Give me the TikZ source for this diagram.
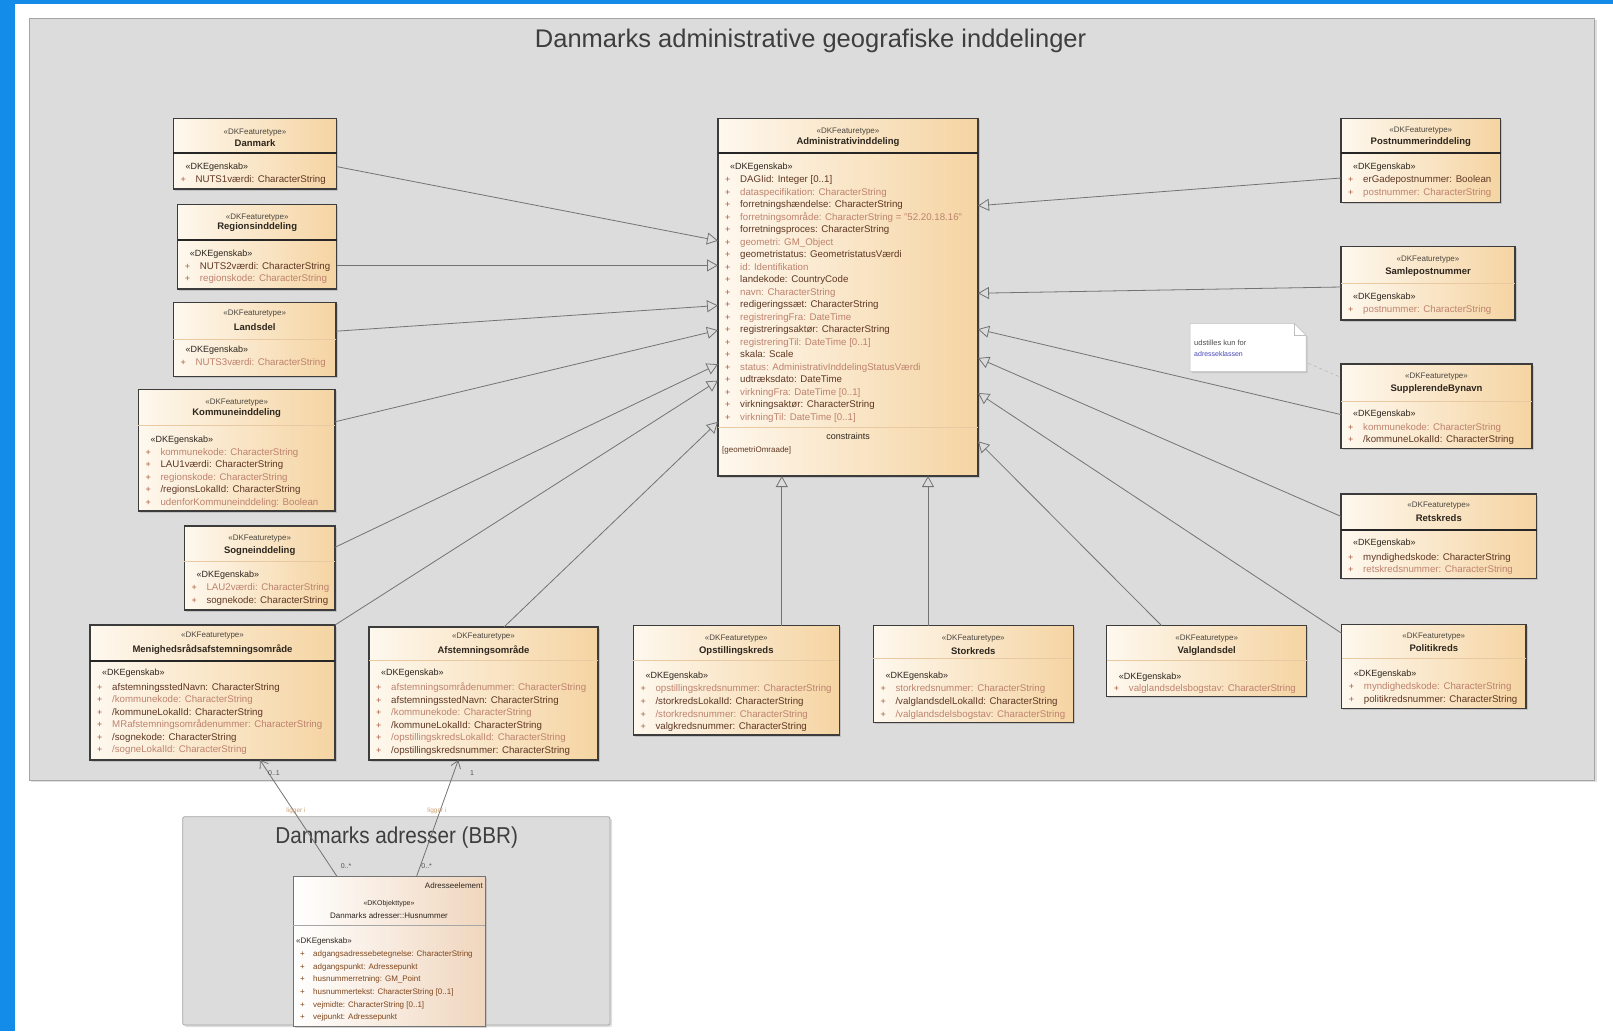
\documentclass[tikz,border=0pt]{standalone}
\usepackage{fontspec}
\setmainfont{Liberation Sans}
\usetikzlibrary{arrows.meta,shadows,calc}
\definecolor{bluebar}{RGB}{18,140,232}
\definecolor{pkgfill}{RGB}{220,220,220}
\definecolor{pkgline}{RGB}{165,165,165}
\definecolor{boxL}{RGB}{254,248,238}
\definecolor{boxR}{RGB}{245,212,162}
\definecolor{boxline}{RGB}{60,60,60}
\definecolor{txtdark}{RGB}{45,38,30}
\definecolor{attrdark}{RGB}{95,55,35}
\definecolor{attrfaint}{RGB}{190,130,110}
\definecolor{pluscol}{RGB}{170,90,60}
\definecolor{conn}{RGB}{115,115,115}
\definecolor{titlecol}{RGB}{62,62,62}
\definecolor{lblcol}{RGB}{205,160,115}
\definecolor{hnR}{RGB}{240,214,190}
\newcommand\fa{\color{attrfaint}}
\tikzset{
 pkgbox/.style={draw=pkgline, fill=pkgfill, line width=0.8pt, inner sep=0pt, outer sep=0pt,
   drop shadow={opacity=0.25, shadow xshift=2pt, shadow yshift=-2pt}},
 pkgtitle/.style={font=\fontsize{25.5}{30}\selectfont, text=titlecol, inner sep=0pt},
 umlcls/.style={draw=boxline, line width=1.1pt, left color=boxL, right color=boxR, inner sep=0pt, outer sep=0pt,
   drop shadow={opacity=0.3, shadow xshift=1.5pt, shadow yshift=-1.5pt}},
 divthick/.style={draw=black!85, line width=1.8pt},
 divthin/.style={draw=boxR!60!brown!70, line width=0.6pt},
 stereotxt/.style={font=\fontsize{8}{9}\selectfont, text=txtdark!85, inner sep=0pt},
 egtxt/.style={font=\fontsize{9}{10}\selectfont, text=txtdark, inner sep=0pt, anchor=west},
 nametxt/.style={font=\fontsize{9.5}{11}\selectfont\bfseries, text=txtdark, inner sep=0pt},
 attrtxt/.style={font=\fontsize{9.7}{11}\selectfont, text=attrdark, inner sep=0pt, anchor=base west},
 plusmark/.style={font=\fontsize{9}{10}\selectfont, text=pluscol, inner sep=0pt, anchor=base west},
 genarrow/.style={draw=conn, line width=0.8pt, -{Triangle[open, length=11pt, width=12pt]}},
 assocarrow/.style={draw=conn, line width=0.8pt, -{Straight Barb[length=7pt, width=10pt]}},
 multtxt/.style={font=\fontsize{7}{8}\selectfont, text=txtdark!80, inner sep=0pt},
 roletxt/.style={font=\fontsize{6.5}{8}\selectfont, text=lblcol, inner sep=0pt},
 hnbox/.style={draw=black!55, line width=0.6pt, left color=white, right color=hnR, inner sep=0pt, outer sep=0pt,
   drop shadow={opacity=0.3, shadow xshift=1.5pt, shadow yshift=-1.5pt}},
 hntxt/.style={font=\fontsize{8}{9}\selectfont, text=txtdark, inner sep=0pt},
 hnattr/.style={font=\fontsize{8}{9}\selectfont, text=attrdark!80!orange, inner sep=0pt, anchor=base west},
}
% id, x1, y1, x2, y2, ydiv, divstyle
\newcommand\clsbox[7]{%
 \node[umlcls, anchor=north west, minimum width={(#4-#2)*1pt}, minimum height={(#5-#3)*1pt}] (#1) at (#2,#3) {};
 \draw[#7] (#2,#6) -- (#4,#6);
}
% id, xc, ystereo, yname, stereotype, name
\newcommand\clshead[6]{%
 \node[stereotxt] (#1-st) at (#2,#3) {#5};
 \node[nametxt] (#1-nm) at (#2,#4) {#6};
}
% id, x1, yeg, yfirst, step, list
\newcommand\clsattrs[6]{%
 \node[egtxt] (#1-eg) at (#2+12,#3) {«DKEgenskab»};
 \foreach \t [count=\i] in {#6} {
   \node[plusmark] (#1-p\i) at (#2+7,{#4+3.5+(\i-1)*#5}) {+};
   \node[attrtxt] (#1-a\i) at (#2+22,{#4+3.5+(\i-1)*#5}) {\t};
 }
}
\begin{document}
\begin{tikzpicture}[x=1pt,y=-1pt]
\useasboundingbox (0,0) rectangle (1613,1031);
\fill[white] (0,0) rectangle (1613,1031);
\fill[bluebar] (0,0) rectangle (15.4,1031);
\fill[bluebar] (0,0) rectangle (1613,3.5);

% packages
\node[pkgbox, anchor=north west, minimum width=1565.5pt, minimum height=762pt] (pkgmain) at (29,18) {};
\node[pkgtitle] (titlemain) at (810.6,41) {Danmarks administrative geografiske inddelinger};
\node[pkgbox, rounded corners=2pt, anchor=north west, minimum width=427.3pt, minimum height=208.3pt] (pkgbbr) at (182.7,816.7) {};
\node[pkgtitle, font=\fontsize{23}{28}\selectfont, xscale=0.9] (titlebbr) at (396.7,837.3) {Danmarks adresser (BBR)};

% Danmark
\clsbox{danmark}{173.3}{118.3}{336.7}{189}{152.7}{divthick}
\clshead{danmark}{255}{132.7}{142.7}{«DKFeaturetype»}{Danmark}
\clsattrs{danmark}{173.3}{167.3}{179.3}{12.5}{NUTS1værdi: CharacterString}

% Regionsinddeling
\clsbox{region}{177.7}{204.3}{336.7}{289}{240}{divthick}
\clshead{region}{257.2}{217.3}{227.3}{«DKFeaturetype»}{Regionsinddeling}
\clsattrs{region}{177.7}{254}{265.7}{12.6}{NUTS2værdi: CharacterString,\fa regionskode: CharacterString}

% Landsdel
\clsbox{landsdel}{173.3}{302.7}{336}{376.7}{339.3}{divthin}
\clshead{landsdel}{254.7}{314}{327.3}{«DKFeaturetype»}{Landsdel}
\clsattrs{landsdel}{173.3}{350}{361.5}{12.5}{\fa NUTS3værdi: CharacterString}

% Kommuneinddeling
\clsbox{kommune}{138.3}{389.3}{335}{511}{425}{divthin}
\clshead{kommune}{236.7}{402.7}{413.3}{«DKFeaturetype»}{Kommuneinddeling}
\clsattrs{kommune}{138.3}{440}{451.7}{12.5}{\fa kommunekode: CharacterString,LAU1værdi: CharacterString,\fa regionskode: CharacterString,/regionsLokalId: CharacterString,\fa udenforKommuneinddeling: Boolean}

% Sogneinddeling
\clsbox{sogne}{184.3}{526}{335}{610}{561.7}{divthin}
\clshead{sogne}{259.7}{538.3}{550.7}{«DKFeaturetype»}{Sogneinddeling}
\clsattrs{sogne}{184.3}{575}{587.3}{12.7}{\fa LAU2værdi: CharacterString,sognekode: CharacterString}

% Menighedsraadsafstemningsomraade
\clsbox{menighed}{90}{625}{335}{760}{660.7}{divthick}
\clshead{menighed}{212.5}{636}{649.3}{«DKFeaturetype»}{Menighedsrådsafstemningsområde}
\clsattrs{menighed}{90}{673.3}{686.7}{12.5}{afstemningsstedNavn: CharacterString,\fa /kommunekode: CharacterString,/kommuneLokalId: CharacterString,\fa MRafstemningsområdenummer: CharacterString,/sognekode: CharacterString,\fa /sogneLokalId: CharacterString}

% Afstemningsomraade
\clsbox{afst}{369}{627}{598}{760}{660.7}{divthin}
\clshead{afst}{483.5}{636.7}{650.7}{«DKFeaturetype»}{Afstemningsområde}
\clsattrs{afst}{369}{673.3}{687.3}{12.5}{\fa afstemningsområdenummer: CharacterString,afstemningsstedNavn: CharacterString,\fa /kommunekode: CharacterString,/kommuneLokalId: CharacterString,\fa /opstillingskredsLokalId: CharacterString,/opstillingskredsnummer: CharacterString}

% Administrativinddeling
\clsbox{admin}{718}{118.3}{978}{476}{152.7}{divthick}
\clshead{admin}{848}{131.7}{141.7}{«DKFeaturetype»}{Administrativinddeling}
\clsattrs{admin}{718}{166.7}{179.3}{12.5}{DAGIid: Integer [0..1],\fa dataspecifikation: CharacterString,forretningshændelse: CharacterString,\fa forretningsområde: CharacterString = "52.20.18.16",forretningsproces: CharacterString,\fa geometri: GM\_Object,geometristatus: GeometristatusVærdi,\fa id: Identifikation,landekode: CountryCode,\fa navn: CharacterString,redigeringssæt: CharacterString,\fa registreringFra: DateTime,registreringsaktør: CharacterString,\fa registreringTil: DateTime [0..1],skala: Scale,\fa status: AdministrativInddelingStatusVærdi,udtræksdato: DateTime,\fa virkningFra: DateTime [0..1],virkningsaktør: CharacterString,\fa virkningTil: DateTime [0..1]}
\draw[divthin] (718,427.3) -- (978,427.3);
\node[egtxt, anchor=center] (admin-con) at (848,436.7) {constraints};
\node[stereotxt, anchor=west, text=attrdark] (admin-conitem) at (722,450) {[geometriOmraade]};

% Postnummerinddeling
\clsbox{post}{1341}{118.3}{1500.7}{202.3}{152.7}{divthick}
\clshead{post}{1420.8}{130.7}{142.3}{«DKFeaturetype»}{Postnummerinddeling}
\clsattrs{post}{1341}{166.7}{179.3}{12.4}{erGadepostnummer: Boolean,\fa postnummer: CharacterString}

% Samlepostnummer
\clsbox{samle}{1341}{246.7}{1515}{320}{283.3}{divthin}
\clshead{samle}{1428}{260}{272.3}{«DKFeaturetype»}{Samlepostnummer}
\clsattrs{samle}{1341}{296.7}{309.3}{12.4}{\fa postnummer: CharacterString}

% Note
\path[fill=white, draw=black!25, line width=0.5pt, drop shadow={opacity=0.25, shadow xshift=1.5pt, shadow yshift=-1.5pt}]
  (1190,323.3) -- (1294,323.3) -- (1306,335.3) -- (1306,371.7) -- (1190,371.7) -- cycle;
\draw[black!25, line width=0.5pt] (1294,323.3) -- (1294,335.3) -- (1306,335.3);
\node[anchor=north west, minimum width=116pt, minimum height=48.4pt, inner sep=0pt, outer sep=0pt] (note) at (1190,323.3) {};
\node[font=\fontsize{7.5}{9}\selectfont, text=black!70, inner sep=0pt, anchor=west] (note-l1) at (1194,342.7) {udstilles kun for};
\node[font=\fontsize{7}{9}\selectfont, text=blue!45!gray, inner sep=0pt, anchor=west] (note-l2) at (1194,354.3) {adresseklassen};

% SupplerendeBynavn
\clsbox{supp}{1341}{364}{1532}{448.3}{401}{divthin}
\clshead{supp}{1436.5}{376.7}{389}{«DKFeaturetype»}{SupplerendeBynavn}
\clsattrs{supp}{1341}{414.3}{426.7}{12.3}{\fa kommunekode: CharacterString,/kommuneLokalId: CharacterString}

% Retskreds
\clsbox{ret}{1341}{494}{1536.7}{578.3}{530}{divthick}
\clshead{ret}{1438.8}{506}{518.3}{«DKFeaturetype»}{Retskreds}
\clsattrs{ret}{1341}{543.3}{556.7}{11.8}{myndighedskode: CharacterString,\fa retskredsnummer: CharacterString}

% Opstillingskreds
\clsbox{opst}{633.3}{625.7}{839.3}{735}{660}{divthin}
\clshead{opst}{736.3}{638.3}{650.7}{«DKFeaturetype»}{Opstillingskreds}
\clsattrs{opst}{633.3}{676}{688}{12.8}{\fa opstillingskredsnummer: CharacterString,/storkredsLokalId: CharacterString,\fa /storkredsnummer: CharacterString,valgkredsnummer: CharacterString}

% Storkreds
\clsbox{stork}{873.3}{625.7}{1073.3}{722.3}{658.3}{divthin}
\clshead{stork}{973.3}{638.3}{650.7}{«DKFeaturetype»}{Storkreds}
\clsattrs{stork}{873.3}{676}{688}{12.8}{\fa storkredsnummer: CharacterString,/valglandsdelLokalId: CharacterString,\fa /valglandsdelsbogstav: CharacterString}

% Valglandsdel
\clsbox{valg}{1106.7}{625.7}{1306.7}{696.7}{660}{divthin}
\clshead{valg}{1206.7}{638.3}{650.7}{«DKFeaturetype»}{Valglandsdel}
\clsattrs{valg}{1106.7}{676.7}{688}{12.8}{\fa valglandsdelsbogstav: CharacterString}

% Politikreds
\clsbox{politi}{1341.7}{624.3}{1526}{708.3}{658.3}{divthin}
\clshead{politi}{1433.8}{636.7}{648.3}{«DKFeaturetype»}{Politikreds}
\clsattrs{politi}{1341.7}{674.3}{686}{12.8}{\fa myndighedskode: CharacterString,politikredsnummer: CharacterString}

% Husnummer
\node[hnbox, anchor=north west, minimum width=191.7pt, minimum height=150pt] (husnr) at (293.3,876) {};
\draw[draw=black!35, line width=0.5pt] (293.3,925.7) -- (485,925.7);
\node[hntxt, anchor=east] (husnr-el) at (483,885.7) {Adresseelement};
\node[hntxt, font=\fontsize{7}{8}\selectfont] (husnr-st) at (389,904) {«DKObjekttype»};
\node[hntxt] (husnr-nm) at (389,916) {Danmarks adresser::Husnummer};
\node[hntxt, anchor=west] (husnr-eg) at (296,941.7) {«DKEgenskab»};
\foreach \t [count=\i] in {adgangsadressebetegnelse: CharacterString,adgangspunkt: Adressepunkt,husnummerretning: GM\_Point,husnummertekst: CharacterString [0..1],vejmidte: CharacterString [0..1],vejpunkt: Adressepunkt} {
  \node[hnattr] (husnr-p\i) at (300,{953.3+3+(\i-1)*12.7}) {+};
  \node[hnattr] (husnr-a\i) at (313,{953.3+3+(\i-1)*12.7}) {\t};
}

% generalizations
\draw[genarrow] ($(danmark.north east)+(0,48.3)$) -- ($(admin.north west)+(0,122.4)$);
\draw[genarrow] ($(region.north east)+(0,61.1)$) -- ($(admin.north west)+(0,147.1)$);
\draw[genarrow] ($(landsdel.north east)+(0,28.5)$) -- ($(admin.north west)+(0,187.2)$);
\draw[genarrow] ($(kommune.north east)+(0,32.5)$) -- ($(admin.north west)+(0,211.9)$);
\draw[genarrow] ($(sogne.north east)+(0,21.3)$) -- ($(admin.north west)+(0,245.9)$);
\draw[genarrow] (menighed.north east) -- ($(admin.north west)+(0,262.3)$);
\draw[genarrow] ($(afst.north west)+(135,0)$) -- ($(admin.north west)+(0,303.5)$);
\draw[genarrow] ($(opst.north west)+(148.5,0)$) -- ($(admin.south west)+(63.8,0)$);
\draw[genarrow] ($(stork.north west)+(54.7,0)$) -- ($(admin.south west)+(210,0)$);
\draw[genarrow] ($(valg.north west)+(55,0)$) -- ($(admin.north east)+(0,323)$);
\draw[genarrow] ($(politi.north west)+(0,9)$) -- ($(admin.north east)+(0,274.7)$);
\draw[genarrow] ($(ret.north west)+(0,22.4)$) -- ($(admin.north east)+(0,239.7)$);
\draw[genarrow] ($(supp.north west)+(0,50.6)$) -- ($(admin.north east)+(0,210.9)$);
\draw[genarrow] ($(samle.north west)+(0,40.3)$) -- ($(admin.north east)+(0,174.9)$);
\draw[genarrow] ($(post.north west)+(0,59.7)$) -- ($(admin.north east)+(0,87.4)$);

% note link
\draw[dashed, black!30, line width=0.5pt] ($(note.south east)+(2.3,-8.4)$) -- ($(supp.north west)+(-1.7,12.7)$);

% associations
\draw[assocarrow] ($(husnr.north west)+(43.4,0)$) -- ($(menighed.south west)+(170,0)$);
\draw[assocarrow] ($(husnr.north west)+(123.4,0)$) -- ($(afst.south west)+(89.3,0)$);
\node[multtxt, anchor=west] (m1) at (268,773.3) {0..1};
\node[multtxt, anchor=west] (m2) at (470,773.3) {1};
\node[roletxt] (r1) at (296,810.7) {ligger i};
\node[roletxt] (r2) at (437,810.7) {ligger i};
\node[multtxt] (m3) at (346,866) {0..*};
\node[multtxt] (m4) at (426.7,866) {0..*};
\end{tikzpicture}
\end{document}
